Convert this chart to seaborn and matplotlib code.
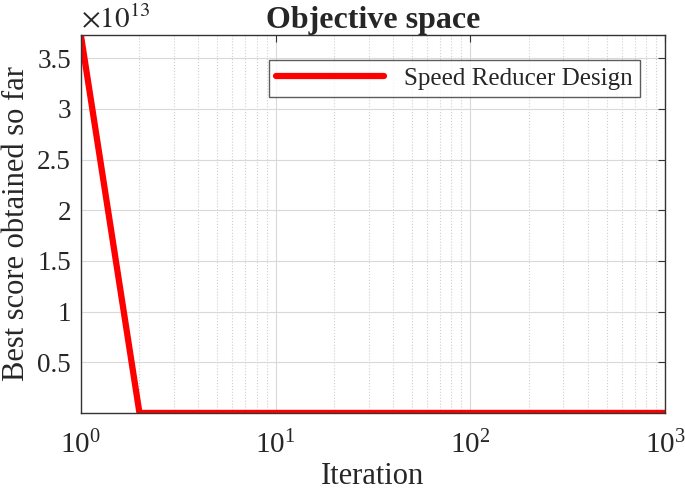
import numpy as np
import pandas as pd
import seaborn as sns
import matplotlib
matplotlib.use("Agg")
import matplotlib.pyplot as plt
from matplotlib.ticker import FuncFormatter, LogLocator, NullFormatter

# Convergence curve (key points)
iterations = [1, 2, 1000]
best_score = [3.73e13, 2994.4, 2994.4]
series_name = "Speed Reducer Design"
y_ticks = [0.5e13, 1e13, 1.5e13, 2e13, 2.5e13, 3e13, 3.5e13]

df = pd.DataFrame({"Iteration": iterations, "Best": best_score, "name": series_name})

sns.set_style("white")
plt.rcParams["font.family"] = ["Liberation Serif", "DejaVu Serif"]
plt.rcParams["mathtext.fontset"] = "stix"

fig = plt.figure(figsize=(6.85, 4.91), dpi=100)
ax = fig.add_axes([0.118, 0.159, 0.853, 0.770])

sns.lineplot(data=df, x="Iteration", y="Best", hue="name", palette=["#ff0000"],
             linewidth=4.5, ax=ax)

ax.set_xscale("log")
ax.set_xlim(1, 1000)
ax.set_ylim(min(best_score), max(best_score))
ax.set_yticks(y_ticks)
ax.yaxis.set_major_formatter(FuncFormatter(lambda v, p: "%g" % (v / 1e13)))
ax.xaxis.set_minor_locator(LogLocator(base=10, subs=np.arange(2, 10), numticks=20))
ax.xaxis.set_minor_formatter(NullFormatter())

ax.grid(True, which="major", color="#d9d9d9", linewidth=0.8, linestyle="-")
ax.grid(True, which="minor", axis="x", color="#cfcfcf", linewidth=0.8, linestyle=":")
ax.tick_params(which="both", direction="in", top=True, right=True, labelsize=19.5,
               color="#333333", pad=7)
ax.tick_params(axis="x", which="major", labelsize=21, pad=13)
ax.tick_params(which="major", length=5)
ax.tick_params(which="minor", length=0)
for s in ax.spines.values():
    s.set_color("#333333")
    s.set_linewidth(1.0)

ax.set_xlabel("Iteration", fontsize=22, labelpad=2)
ax.set_ylabel("Best score obtained so far", fontsize=22, labelpad=4.5)
ax.set_title("Objective space", fontsize=23, fontweight="bold", pad=5)
ax.text(0.0, 1.005, r"$\times10^{13}$", transform=ax.transAxes, fontsize=21,
        ha="left", va="bottom")

leg = ax.legend(loc="upper right", bbox_to_anchor=(0.957, 0.934), borderaxespad=0,
                fontsize=18, frameon=True, fancybox=False, handlelength=4.3,
                borderpad=0.3, handletextpad=0.8)
leg.get_frame().set_edgecolor("#333333")
leg.get_frame().set_linewidth(1.0)

fig.savefig("out.png", dpi=100)
